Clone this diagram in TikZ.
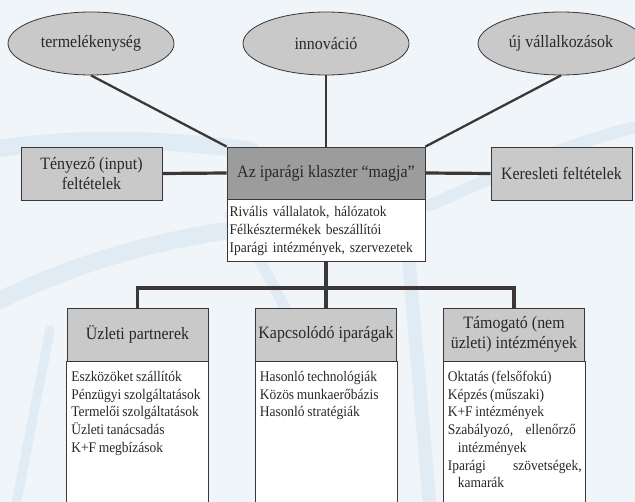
\documentclass[tikz,border=0pt]{standalone}
\usepackage{fontspec}
\setmainfont{Liberation Serif}[FakeStretch=0.92]
\usepackage{tikz}
\usetikzlibrary{shapes}

\definecolor{bgblue}{RGB}{239,245,248}
\definecolor{wmblue}{RGB}{225,235,243}
\definecolor{inkgray}{RGB}{60,54,54}
\definecolor{txtgray}{RGB}{40,40,40}
\definecolor{lightfill}{RGB}{201,201,201}
\definecolor{darkfill}{RGB}{156,156,156}

\newcommand{\headfont}{\fontsize{13}{14.5}\selectfont}
\newcommand{\listfont}{\fontsize{11}{13.3}\selectfont\spaceskip=0.18em plus 0.3em}

\tikzset{
  oval/.style={ellipse, draw=inkgray, line width=0.6pt, fill=lightfill, minimum width=124.5pt, minimum height=47.25pt, inner sep=0pt, font=\headfont, text=txtgray},
  headbox/.style={rectangle, draw=inkgray, line width=0.6pt, fill=lightfill, minimum width=105.75pt, minimum height=39.75pt, inner sep=0pt, align=center, font=\headfont, text=txtgray},
  corebox/.style={headbox, fill=darkfill, minimum width=148.5pt, minimum height=39pt},
  listbox/.style={draw=inkgray, line width=0.6pt, fill=white},
  listtext/.style={anchor=north west, inner sep=0pt, align=left, font=\listfont, text=txtgray},
  link/.style={draw=inkgray, line width=1.7pt},
  thicklink/.style={draw=inkgray, line width=2.4pt},
  beam/.style={draw=wmblue, line width=13pt, line cap=round}
}

\begin{document}
\begin{tikzpicture}[x=0.75pt,y=0.75pt,yscale=-1,xscale=1]
\useasboundingbox (0,0) rectangle (635,502);
\fill[bgblue] (0,0) rectangle (635,502);
\clip (0,0) rectangle (635,502);

%Faint background beams
\draw[beam] (-10,150) .. controls (80,135) and (170,140) .. (250,150);
\draw[beam] (-10,305) .. controls (90,255) and (190,230) .. (310,222);
\draw[beam, line width=8pt] (230,215) .. controls (290,300) and (330,400) .. (350,510);
\draw[beam, line width=10pt] (405,215) -- (430,510);
\draw[beam, line width=9pt] (430,205) .. controls (510,170) and (575,140) .. (645,125);
\draw[beam, line width=7pt] (50,330) -- (15,510);

%Shape: Ellipse
\node[oval] (prod) at (91,43.5) {termelékenység};
%Shape: Ellipse
\node[oval] (innov) at (326,43.5) {innováció};
%Shape: Ellipse
\node[oval] (newfirm) at (561,43.5) {új vállalkozások};

%Shape: Rectangle
\node[headbox] (factor) at (91.5,173.5) {Tényező (input)\\feltételek};
%Shape: Rectangle
\node[corebox] (core) at (326,173) {Az iparági klaszter ``magja''};
%Shape: Rectangle
\node[headbox] (demand) at (561.5,173.5) {Keresleti feltételek};
%Shape: Rectangle
\node[listbox, anchor=north, text width=144.5pt, inner xsep=2pt, inner ysep=0pt, minimum height=46.5pt, align=left, font=\listfont, text=txtgray] (rival) at (core.south) {Rivális vállalatok, hálózatok\\Félkésztermékek beszállítói\\Iparági intézmények, szervezetek};

%Shape: Rectangle
\node[headbox] (partner) at (137.5,334.5) {Üzleti partnerek};
%Shape: Rectangle
\node[headbox] (related) at (326,334.5) {Kapcsolódó iparágak};
%Shape: Rectangle
\node[headbox] (support) at (514,334.5) {Támogató (nem\\üzleti) intézmények};

%Shape: Rectangle
\draw[listbox] (partner.south west) rectangle (partner.east |- 0,510);
\draw[listbox] (related.south west) rectangle (related.east |- 0,510);
\draw[listbox] (support.south west) rectangle (support.east |- 0,510);

% Text Node
\node[listtext] (partnerlist) at ([shift={(4.4,9.5)}]partner.south west) {Eszközöket szállítók\\Pénzügyi szolgáltatások\\Termelői szolgáltatások\\Üzleti tanácsadás\\K+F megbízások};
% Text Node
\node[listtext] (relatedlist) at ([shift={(4.4,9.5)}]related.south west) {Hasonló technológiák\\Közös munkaerőbázis\\Hasonló stratégiák};
% Text Node
\node[listtext] (supportlist) at ([shift={(4.4,9.5)}]support.south west) {Oktatás (felsőfokú)\\Képzés (műszaki)\\K+F intézmények\\\makebox[96pt][s]{Szabályozó, ellenőrző}\\\hspace*{7.5pt}intézmények\\\makebox[100.5pt][s]{Iparági szövetségek,}\\\hspace*{7.5pt}kamarák};

%Straight Lines
\draw[link] (prod.south) -- (core.north west);
\draw[link] (innov.south) -- (core.north);
\draw[link] (newfirm.south) -- (core.north east);
\draw[thicklink] (factor.east) -- (core.west);
\draw[thicklink] (core.east) -- (demand.west);

%Straight Lines
\coordinate (split) at (326,288);
\draw[thicklink] (rival.south) -- (related.north);
\draw[thicklink] (partner.north) |- (split) -| (support.north);

\end{tikzpicture}
\end{document}
